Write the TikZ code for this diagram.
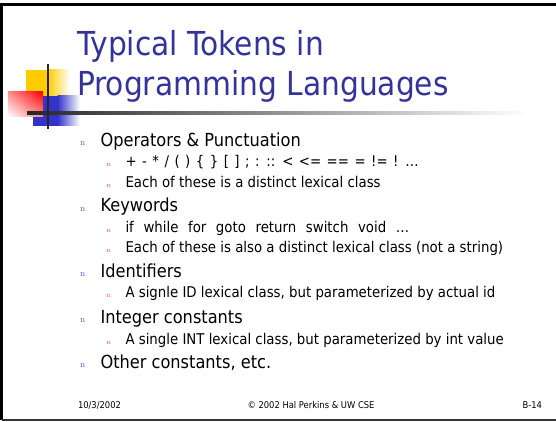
\documentclass[tikz,border=0pt]{standalone}
\usepackage{fontspec}
\usetikzlibrary{shadings}
\newfontfamily\tah[FakeStretch=0.9]{DejaVu Sans}
\definecolor{titleblue}{RGB}{51,51,153}
\definecolor{bulblue}{RGB}{90,90,210}
\definecolor{bulred}{RGB}{240,80,80}
\definecolor{logoyellow}{RGB}{255,204,0}
\definecolor{logoblue}{RGB}{51,51,204}
\definecolor{logored}{RGB}{255,0,0}
\begin{document}
\begin{tikzpicture}[x=1pt,y=-1pt,
  txt/.style={anchor=base west,inner sep=0pt,outer sep=0pt},
  ttl/.style={txt,font=\tah\fontsize{33}{36}\selectfont,text=titleblue},
  lone/.style={txt,font=\tah\fontsize{18}{20}\selectfont},
  ltwo/.style={txt,font=\tah\fontsize{14.8}{16}\selectfont},
  bone/.style={txt,font=\rmfamily\fontsize{9}{10}\selectfont,text=bulblue},
  btwo/.style={txt,font=\rmfamily\fontsize{7}{8}\selectfont,text=bulred},
  foot/.style={txt,font=\tah\fontsize{9.3}{11}\selectfont}]
\useasboundingbox (0,0) rectangle (556,422);
% frame
\draw[line width=3pt] (557,5) -- (1.5,5) -- (1.5,420);
\draw[line width=2.5pt,black!80] (1.5,420) -- (557,420);
% logo
\fill[logoyellow] (26,70) rectangle (48,96);
\shade[left color=logoyellow,right color=white] (47.5,70) rectangle (70,96);
\fill[logoblue] (33,96) rectangle (58,126);
\shade[left color=logoblue,right color=white] (57.5,96) rectangle (80,126);
\shade[upper right=logored,upper left=logored!45,lower right=logored!45,lower left=white] (8,92) rectangle (43,117);
\shade[left color=black!85,right color=white] (27,112) rectangle (528,114.5);
\draw[line width=2pt,black!85] (48,64) -- (48,129);
% title
\node[ttl] (t1) at (77,56) {Typical Tokens in};
\node[ttl] (t2) at (77,95.5) {Programming Languages};
% bullets
\node[bone] (b1) at (80,146) {n};
\node[lone] (l1) at (100.5,147) {Operators \& Punctuation};
\node[btwo] (b11) at (106.5,166.5) {n};
\node[ltwo] (l11) at (125.5,167) {\spaceskip=0.37em\relax + - * / ( ) \{ \} [ ] ; : :: < <= == = != ! \dots};
\node[btwo] (b12) at (106.5,187) {n};
\node[ltwo] (l12) at (125.5,187) {Each of these is a distinct lexical class};
\node[bone] (b2) at (80,211) {n};
\node[lone] (l2) at (100.5,211.7) {Keywords};
\node[btwo] (b21) at (106.5,232) {n};
\node[ltwo] (l21) at (125.5,232) {if\hspace{0.65em}while\hspace{0.65em}for\hspace{0.65em}goto\hspace{0.65em}return\hspace{0.65em}switch\hspace{0.65em}void\hspace{0.65em}\dots};
\node[btwo] (b22) at (106.5,252.5) {n};
\node[ltwo] (l22) at (125.5,252.5) {Each of these is also a distinct lexical class (not a string)};
\node[bone] (b3) at (80,276) {n};
\node[lone] (l3) at (100.5,277) {Identifiers};
\node[btwo] (b31) at (106.5,297) {n};
\node[ltwo] (l31) at (125.5,297) {A signle ID lexical class, but parameterized by actual id};
\node[bone] (b4) at (80,322) {n};
\node[lone] (l4) at (100.5,323) {Integer constants};
\node[btwo] (b41) at (106.5,344) {n};
\node[ltwo] (l41) at (125.5,344) {A single INT lexical class, but parameterized by int value};
\node[bone] (b5) at (80,367) {n};
\node[lone] (l5) at (100.5,368) {Other constants, etc.};
% footer
\node[foot] (f1) at (78,408) {10/3/2002};
\node[foot,anchor=base] (f2) at (311,408) {\textcopyright{} 2002 Hal Perkins \& UW CSE};
\node[foot,anchor=base east] (f3) at (542,408) {B-14};
\end{tikzpicture}
\end{document}
